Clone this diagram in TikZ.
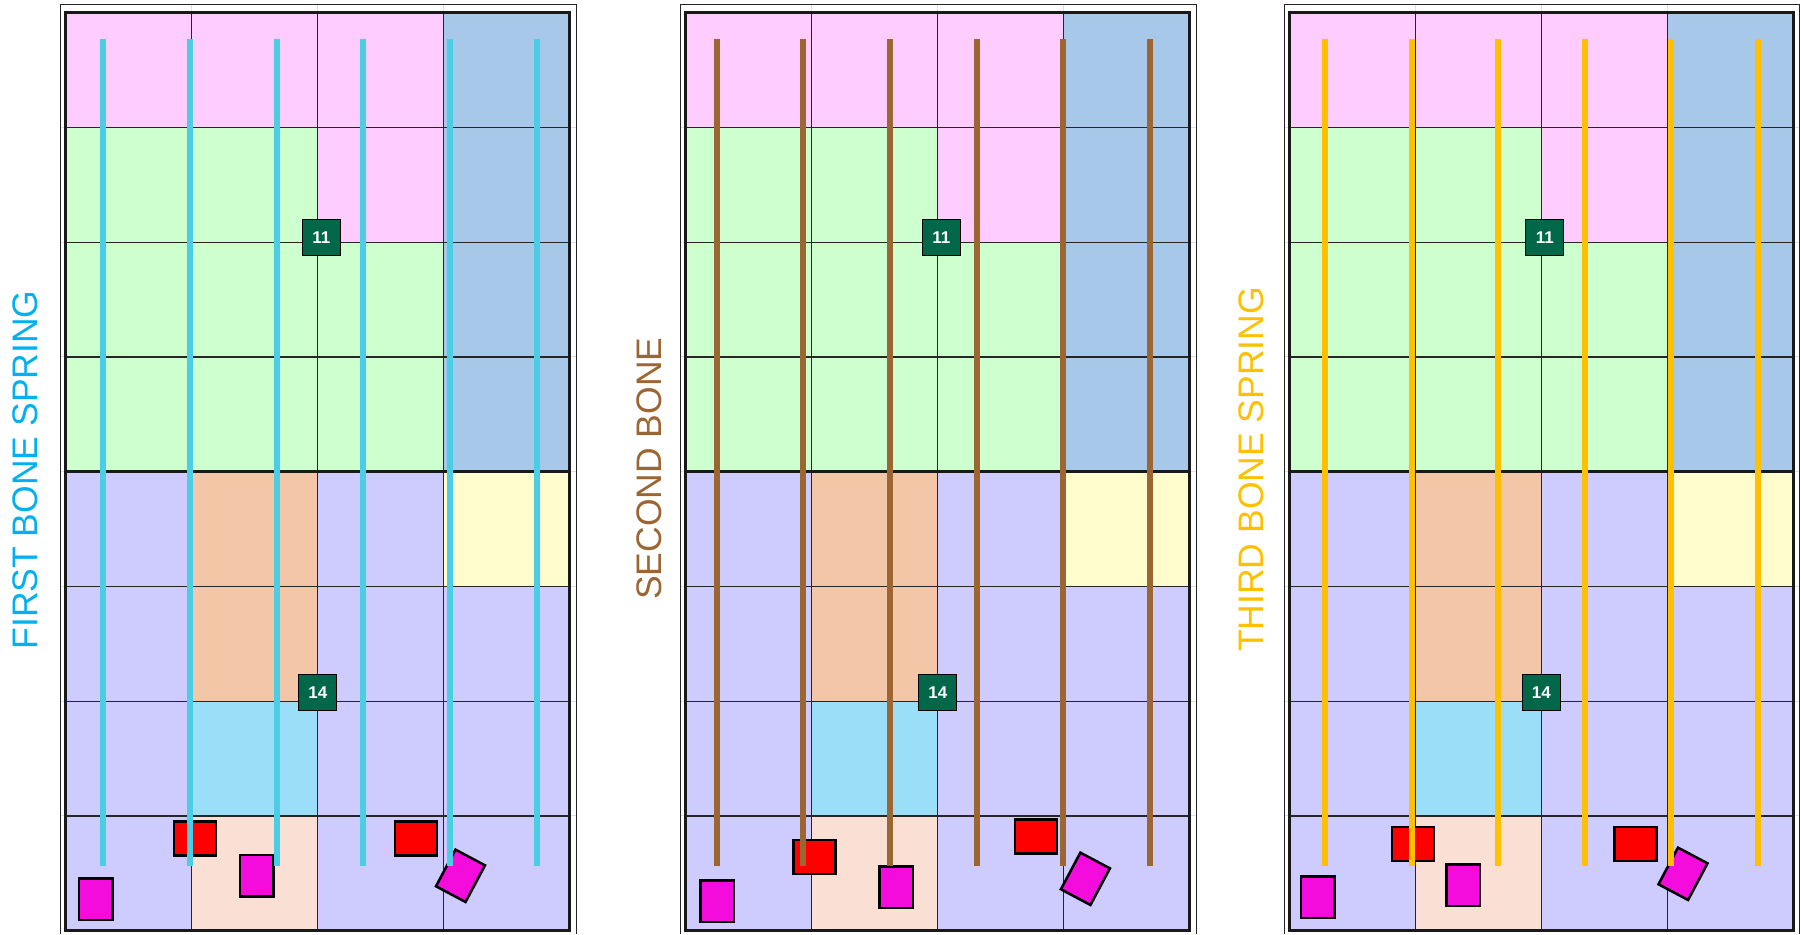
\documentclass[tikz,border=0pt]{standalone}
\usepackage{fontspec}
\setmainfont{Liberation Sans}
\definecolor{pinkc}{RGB}{254,204,254}
\definecolor{greenc}{RGB}{206,255,206}
\definecolor{steelc}{RGB}{168,200,234}
\definecolor{lavc}{RGB}{206,204,255}
\definecolor{peachc}{RGB}{243,198,168}
\definecolor{yellc}{RGB}{255,252,206}
\definecolor{skyc}{RGB}{154,222,247}
\definecolor{palec}{RGB}{250,224,212}
\definecolor{magc}{RGB}{243,12,219}
\definecolor{tagc}{RGB}{0,104,72}
\definecolor{cyanc}{RGB}{76,205,230}
\definecolor{brownc}{RGB}{156,102,51}
\definecolor{goldc}{RGB}{255,192,0}
\definecolor{firstc}{RGB}{0,176,240}
\begin{document}
\begin{tikzpicture}[x=1pt, y=-1pt,
    bone/.style={line width=6pt},
    redbox/.style={draw=black, line width=2.5pt, fill=red, minimum width=42pt, minimum height=34pt, inner sep=0pt},
    magbox/.style={draw=black, line width=2.5pt, fill=magc, minimum width=33.5pt, minimum height=41.5pt, inner sep=0pt},
    tag/.style={draw=black, line width=1pt, fill=tagc, text=white, font=\bfseries\fontsize{17}{17}\selectfont, minimum width=38pt, minimum height=36pt, inner sep=0pt},
    title/.style={rotate=90, font=\fontsize{35.5}{40}\selectfont},
    board/.pic={
      % faint guide lines between frames
      \foreach \k in {1,...,7}
        \draw[gray!25, line width=1pt] (-5.2,114.75*\k) -- (510.4,114.75*\k);
      \foreach \k in {1,2,3}
        \draw[gray!25, line width=1pt] (126*\k,-8.4) -- (126*\k,0);
      % cells
      \foreach \c [count=\k from 0] in {pinkc,pinkc,pinkc,steelc, greenc,greenc,pinkc,steelc,
          greenc,greenc,greenc,steelc, greenc,greenc,greenc,steelc, lavc,peachc,lavc,yellc,
          lavc,peachc,lavc,lavc, lavc,skyc,lavc,lavc, lavc,palec,lavc,lavc}
        \fill[\c] ({126*mod(\k,4)},{114.75*int(\k/4)}) rectangle ++(126,114.75);
      \foreach \k in {1,2,3}
        \draw[black!85, line width=1.3pt] (126*\k,0) -- (126*\k,918);
      \foreach \k in {1,2,3,5,6,7}
        \draw[black!85, line width=1.3pt] (0,114.75*\k) -- (504,114.75*\k);
      \draw[black!90, line width=3pt] (0,459) -- (504,459);
      \draw[black!90, line width=3pt] (0,0) rectangle (504,918);
      % outer frame
      \draw[black!85, line width=1pt] (-5.2,921.3) -- (-5.2,-8.4) -- (510.4,-8.4) -- (510.4,921.3);
      \node[tag] (-t11) at (255.6,224.6) {11};
      \node[tag] (-t14) at (252.1,679.5) {14};
    }]
  \useasboundingbox (0,0) rectangle (1801,934);

  % First bone spring
  \pic (pa) at (65.8,12.7) {board};
  \node[title, text=firstc] (pa-title) at (25.5,470) {FIRST BONE SPRING};
  \node[redbox] (pa-r1) at (194.8,838.4) {};
  \node[redbox] (pa-r2) at (415.8,838.4) {};
  \node[magbox] (pa-m1) at (95.9,899) {};
  \node[magbox] (pa-m2) at (256.6,875.9) {};
  \node[magbox, rotate=-28] (pa-m3) at (460.5,875.8) {};
  \foreach \i in {0,...,5}
    \draw[bone, cyanc] (103.3+86.7*\i,39.3) -- ++(0,826.4);

  % Second bone
  \pic (pb) at (685.8,12.7) {board};
  \node[title, text=brownc] (pb-title) at (649,468.6) {SECOND BONE};
  \node[redbox] (pb-r1) at (814.6,857) {};
  \node[redbox] (pb-r2) at (1036.2,836.7) {};
  \node[magbox] (pb-m1) at (717.2,901) {};
  \node[magbox] (pb-m2) at (896.4,887.4) {};
  \node[magbox, rotate=-28] (pb-m3) at (1085.4,878.8) {};
  \foreach \i in {0,...,5}
    \draw[bone, brownc] (716.6+86.7*\i,39.3) -- ++(0,826.4);

  % Third bone spring
  \pic (pc) at (1289.3,12.7) {board};
  \node[title, text=goldc] (pc-title) at (1251.5,469.5) {THIRD BONE SPRING};
  \node[redbox] (pc-r1) at (1413,844) {};
  \node[redbox] (pc-r2) at (1635.7,844) {};
  \node[magbox] (pc-m1) at (1317.5,897) {};
  \node[magbox] (pc-m2) at (1463.3,885.2) {};
  \node[magbox, rotate=-28] (pc-m3) at (1683,873.8) {};
  \foreach \i in {0,...,5}
    \draw[bone, goldc] (1324.9+86.6*\i,39.3) -- ++(0,826.4);
\end{tikzpicture}
\end{document}
